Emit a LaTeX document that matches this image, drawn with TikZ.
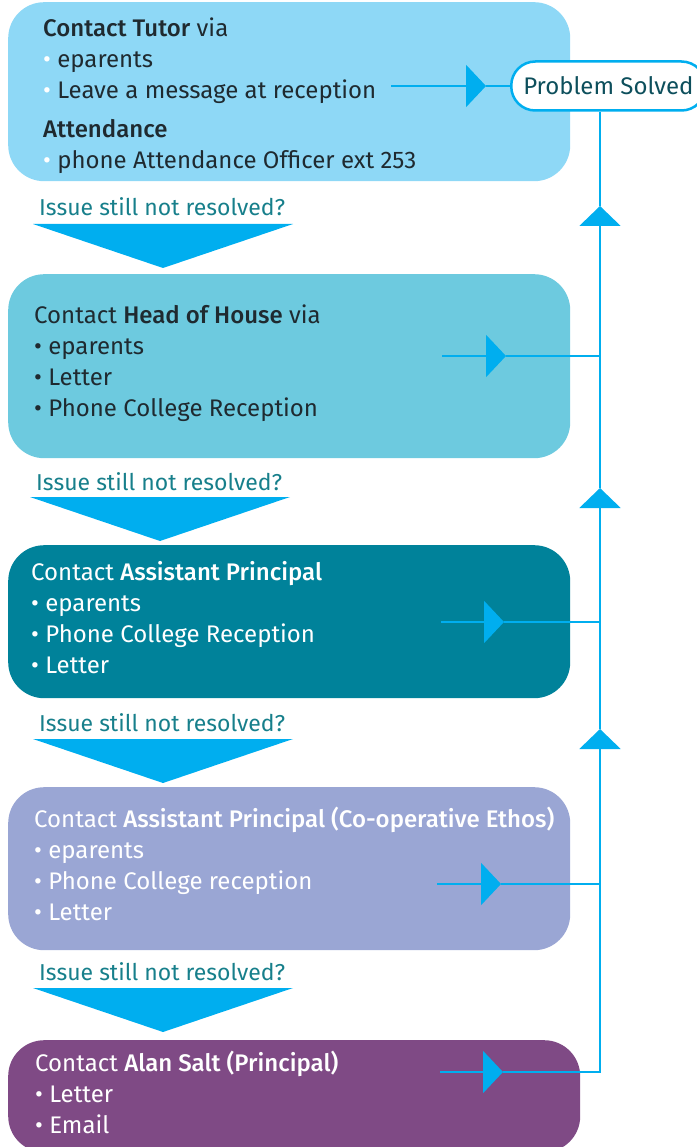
\documentclass[tikz,border=0pt]{standalone}
\usepackage{fontspec}
\setmainfont{Fira Sans}[BoldFont={Fira Sans Medium}]
\usepackage{xcolor}
\usetikzlibrary{arrows.meta, positioning, calc}

\definecolor{tutorblue}{HTML}{8ED8F6}
\definecolor{houseblue}{HTML}{6DCADF}
\definecolor{apteal}{HTML}{00829A}
\definecolor{coopblue}{HTML}{9AA6D4}
\definecolor{alanplum}{HTML}{7F4A85}
\definecolor{flowblue}{HTML}{00AEEF}
\definecolor{labelteal}{HTML}{177F8B}
\definecolor{darktext}{HTML}{1F2A30}
\definecolor{solvedteal}{HTML}{0D4F5C}

\begin{document}
\begin{tikzpicture}[
    x=1pt, y=-1pt,
    stage/.style={rectangle, rounded corners=36pt, anchor=north west, inner sep=0pt},
    stagetext/.style={anchor=base west, inner sep=0pt, align=left,
                      font=\fontsize{24}{31}\selectfont},
    question/.style={anchor=base west, inner sep=0pt, text=labelteal,
                     font=\fontsize{23}{28}\selectfont},
    solved/.style={rectangle, rounded corners=24pt, draw=flowblue, line width=2.5pt,
                   fill=white, text=solvedteal, minimum height=49pt, inner xsep=12pt,
                   anchor=west, font=\fontsize{24}{28}\selectfont},
    chev/.style={fill=flowblue},
    flow/.style={draw=flowblue, line width=2.2pt},
    flowhead/.style={-{Triangle[length=20pt, width=42pt]}},
    uphead/.style={-{Triangle[length=20pt, width=41pt]}}
]
\useasboundingbox (0,0) rectangle (696,1147);

% boxes
\node[stage, fill=tutorblue, minimum width=562pt, minimum height=179pt] (tutor) at (8,2) {};
\node[stage, fill=houseblue, minimum width=562pt, minimum height=184pt] (house) at (8,274) {};
\node[stage, fill=apteal, minimum width=562pt, minimum height=153pt] (ap) at (8,545) {};
\node[stage, fill=coopblue, minimum width=562pt, minimum height=163pt] (coop) at (8,787) {};
\node[stage, fill=alanplum, minimum width=572pt, minimum height=112pt] (alan) at (8,1040) {};

% box texts (placed by the baseline of their last line)
\node[stagetext, text=darktext] (tutortxt) at (43,169)
  {\textbf{Contact Tutor} via\\
   {\color{white}•} eparents\\
   {\color{white}•} Leave a message at reception\\[8pt]
   \textbf{Attendance}\\
   {\color{white}•} phone Attendance Officer ext 253};
\node[stagetext, text=darktext] (housetxt) at (34,416)
  {Contact \textbf{Head of House} via\\
   • eparents\\
   • Letter\\
   • Phone College Reception};
\node[stagetext, text=white] (aptxt) at (31,673)
  {Contact \textbf{Assistant Principal}\\
   • eparents\\
   • Phone College Reception\\
   • Letter};
\node[stagetext, text=white] (cooptxt) at (34,920)
  {Contact \textbf{Assistant Principal (Co-operative Ethos)}\\
   • eparents\\
   • Phone College reception\\
   • Letter};
\node[stagetext, text=white] (alantxt) at (35,1133)
  {Contact \textbf{Alan Salt (Principal)}\\
   • Letter\\
   • Email};

% questions between the boxes
\node[question] (q1) at (39,216) {Issue still not resolved?};
\node[question] (q2) at (36,490) {Issue still not resolved?};
\node[question] (q3) at (39,731) {Issue still not resolved?};
\node[question] (q4) at (39,980) {Issue still not resolved?};

\fill[chev] (33,224) -- (293,224) -- (163,268) -- cycle;
\fill[chev] (30,497) -- (290,497) -- (160,541) -- cycle;
\fill[chev] (33,739) -- (293,739) -- (163,783) -- cycle;
\fill[chev] (33,988) -- (293,988) -- (163,1032) -- cycle;

% problem solved
\node[solved] (ps) at (510,86) {Problem Solved};

\coordinate (tutorin) at (391,86);
\coordinate (tutorhead) at (486,86);
\coordinate (housein) at (442,356);
\coordinate (househead) at (506,356);
\coordinate (housejoin) at (600,356);
\coordinate (apin) at (441,622);
\coordinate (aphead) at (504,622);
\coordinate (apjoin) at (600,622);
\coordinate (coopin) at (437,884);
\coordinate (coophead) at (501,884);
\coordinate (coopjoin) at (600,884);
\coordinate (alanin) at (440,1072);
\coordinate (alanhead) at (503,1072);
\coordinate (alanjoin) at (600,1072);
\coordinate (up1) at (600,206);
\coordinate (up2) at (600,488);
\coordinate (up3) at (600,729);

\draw[flow, flowhead] (tutorin) -- (tutorhead);
\draw[flow] (tutorhead) -- (ps.west);
\draw[flow, flowhead] (housein) -- (househead);
\draw[flow] (househead) -- (housejoin);
\draw[flow, flowhead] (apin) -- (aphead);
\draw[flow] (aphead) -- (apjoin);
\draw[flow, flowhead] (coopin) -- (coophead);
\draw[flow] (coophead) -- (coopjoin);
\draw[flow, flowhead] (alanin) -- (alanhead);
\draw[flow] (alanhead) -- (alanjoin) -- (coopjoin);

\draw[flow, uphead] (coopjoin) -- (up3);
\draw[flow] (up3) -- (apjoin);
\draw[flow, uphead] (apjoin) -- (up2);
\draw[flow] (up2) -- (housejoin);
\draw[flow, uphead] (housejoin) -- (up1);
\draw[flow] (up1) -- (ps.south -| housejoin);

\end{tikzpicture}
\end{document}
